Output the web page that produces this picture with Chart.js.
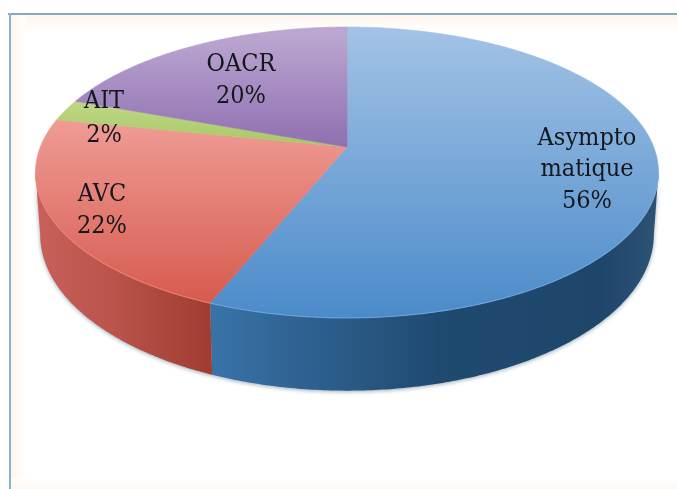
<!DOCTYPE html>
<html><head><meta charset="utf-8">
<style>html,body{margin:0;padding:0;background:#fff}canvas{display:block}</style>
<script src="https://cdn.jsdelivr.net/npm/chart.js@4"></script></head>
<body><canvas id="c" width="677" height="489"></canvas>
<script>
const categories = ["Asymptomatique", "AVC", "AIT", "OACR"];
const values = [56.1, 22.1, 2.4, 19.4];
const labelLines = [["Asympto", "matique", "56%"], ["AVC", "22%"], ["AIT", "2%"], ["OACR", "20%"]];
const baseColors = ["#4f81bd", "#c0504d", "#9bbb59", "#8064a2"];

// Layout and style (perspective projection of the pie, label anchors)
const view = {cx: 347, cy: 147, R: 306.7, B: 141, k: 0.175, D: 60, wallScale: 0.985};
const labelAnchors = [[587, 138, 31.5], [102, 194, 32], [104, 101, 34], [241, 64, 32]];
const topGrad = [["#a3c3e6", "#4a8ac9", 27, 320], ["#ef9c95", "#d65a4e", 120, 305], ["#c2d98a", "#a9c765", 95, 147], ["#bba6d1", "#8f6fb1", 35, 147]];
const wallGrad = [
  [[212, "#3873a9"], [300, "#2f6291"], [440, "#1f4a70"], [600, "#1e466b"], [655, "#2c5274"]],
  [[38, "#c7605a"], [110, "#ba544c"], [212, "#a03c32"]]
];

function project(a) { // a: chart.js angle
  const u = Math.cos(a), v = Math.sin(a), w = 1 - view.k * v;
  return {x: view.cx + view.R * u / w, y: view.cy + view.B * v / w, w, v};
}
function sample(s, e) {
  const n = Math.max(2, Math.ceil((e - s) / 0.01)), p = [];
  for (let i = 0; i <= n; i++) p.push(project(s + (e - s) * i / n));
  return p;
}
const pie3d = {
  id: "pie3d",
  beforeDraw(chart) {
    const c = chart.ctx;
    c.save();
    c.fillStyle = "#ffffff"; c.fillRect(10, 14, 667, 475);
    const g1 = c.createLinearGradient(0, 15, 0, 32);
    g1.addColorStop(0, "#fff5ee"); g1.addColorStop(1, "#ffffff");
    c.fillStyle = g1; c.fillRect(10, 15, 667, 17);
    const g2 = c.createLinearGradient(11, 0, 26, 0);
    g2.addColorStop(0, "#fff5ee"); g2.addColorStop(1, "#ffffff");
    c.fillStyle = g2; c.fillRect(11, 15, 15, 474);
    const g3 = c.createLinearGradient(0, 489, 0, 478);
    g3.addColorStop(0, "#fff7f1"); g3.addColorStop(1, "#ffffff");
    c.fillStyle = g3; c.fillRect(11, 478, 666, 11);
    c.fillStyle = "#8aa9b8";
    c.fillRect(8, 13, 669, 2);
    c.fillStyle = "#86b3cc";
    c.fillRect(9, 13, 2, 476);
    c.restore();
  },
  beforeDatasetsDraw(chart) {
    const c = chart.ctx, arcs = chart.getDatasetMeta(0).data;
    c.save();
    // side walls
    arcs.forEach((arc, i) => {
      const stops = wallGrad[i]; if (!stops) return;
      const pts = sample(arc.startAngle, arc.endAngle).filter(p => p.v >= view.k);
      if (pts.length < 2) return;
      const g = c.createLinearGradient(stops[0][0], 0, stops[stops.length - 1][0], 0);
      const span = stops[stops.length - 1][0] - stops[0][0];
      stops.forEach(s => g.addColorStop((s[0] - stops[0][0]) / span, s[1]));
      c.beginPath();
      pts.forEach((p, j) => j ? c.lineTo(p.x, p.y) : c.moveTo(p.x, p.y));
      pts.slice().reverse().forEach(p => c.lineTo(view.cx + (p.x - view.cx) * view.wallScale, p.y + view.D / p.w));
      c.closePath();
      c.shadowColor = "rgba(70,100,120,0.55)"; c.shadowBlur = 4; c.shadowOffsetY = 1;
      c.fillStyle = g; c.fill();
    });
    c.shadowColor = "transparent"; c.shadowBlur = 0; c.shadowOffsetY = 0;
    // top faces
    arcs.forEach((arc, i) => {
      const t = topGrad[i], g = c.createLinearGradient(0, t[2], 0, t[3]);
      g.addColorStop(0, t[0]); g.addColorStop(1, t[1]);
      c.beginPath(); c.moveTo(view.cx, view.cy);
      sample(arc.startAngle, arc.endAngle).forEach(p => c.lineTo(p.x, p.y));
      c.closePath();
      c.fillStyle = g; c.fill();
      c.strokeStyle = g; c.lineWidth = 0.6; c.stroke();
    });
    // front rim highlight
    arcs.forEach((arc, i) => {
      const pts = sample(arc.startAngle, arc.endAngle).filter(p => p.v >= view.k);
      if (pts.length < 2) return;
      c.beginPath();
      pts.forEach((p, j) => j ? c.lineTo(p.x, p.y) : c.moveTo(p.x, p.y));
      c.strokeStyle = i === 0 ? "rgba(130,175,225,0.55)" : "rgba(245,130,120,0.7)";
      c.lineWidth = 1.2; c.stroke();
    });
    c.restore();
    return false;
  },
  afterDraw(chart) {
    const c = chart.ctx;
    c.save();
    c.font = '25px "DejaVu Serif Condensed", "DejaVu Serif", serif';
    c.fillStyle = "#14181c"; c.textAlign = "center"; c.textBaseline = "middle";
    labelLines.forEach((lines, i) => {
      const a = labelAnchors[i];
      lines.forEach((t, j) => c.fillText(t, a[0], a[1] + j * a[2]));
    });
    c.restore();
  }
};
new Chart(document.getElementById("c"), {
  type: "pie",
  data: {labels: categories, datasets: [{data: values, backgroundColor: baseColors, borderWidth: 0}]},
  options: {
    responsive: false, animation: false, rotation: 0,
    plugins: {legend: {display: false}, tooltip: {enabled: false}, title: {display: false}}
  },
  plugins: [pie3d]
});
</script></body></html>
